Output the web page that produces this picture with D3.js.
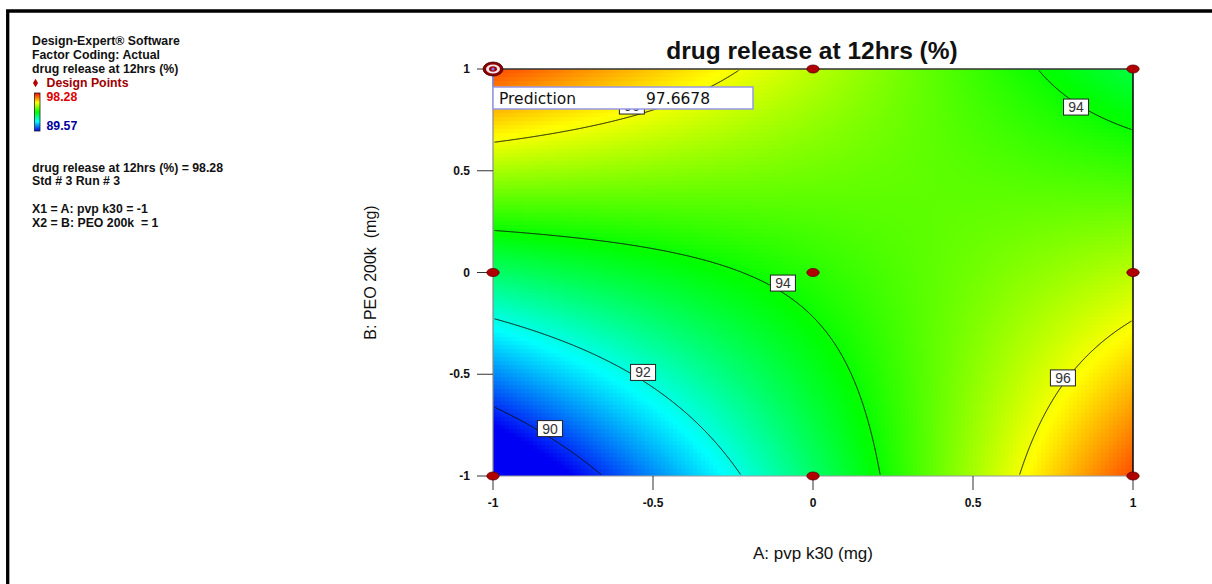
<!DOCTYPE html>
<html>
<head>
<meta charset="utf-8">
<script src="https://cdn.jsdelivr.net/npm/d3@7"></script>
<style>
  body { margin: 0; background: #fff; }
  svg { display: block; font-family: Arial, "Liberation Sans", sans-serif; }
</style>
</head>
<body>
<svg id="chart" width="1212" height="584"></svg>
<script>
// ---- data -------------------------------------------------------------
// coded factor levels and their tick labels
const tickValues = [-1, -0.5, 0, 0.5, 1];
const tickLabels = ["-1", "-0.5", "0", "0.5", "1"];

// 3x3 factorial design points (coded A: pvp k30, B: PEO 200k)
const designA = [-1, 0, 1, -1, 0, 1, -1, 0, 1];
const designB = [-1, -1, -1, 0, 0, 0, 1, 1, 1];

// fitted response model: drug release = b0 + bA*A + bB*B + bAB*A*B
const modelTerms = ["Intercept", "A", "B", "AB"];
const modelCoef = [94.271, 1.228, 1.242, -3.383];

// contour levels and label placements (coded units)
const contourLevels = [90, 92, 94, 96];
const labelLevels = [94, 94, 92, 90, 96, 96];
const labelA = [0.822, -0.094, -0.531, -0.822, 0.781, -0.566];
const labelB = [0.813, -0.052, -0.491, -0.767, -0.518, 0.818];

// colour legend range
const colorRange = [89.57, 98.28];

// selected design point
const selectedPoint = [-1, 1];
const selectedPrediction = 97.6678;
const selectedActual = 98.28;

// side panel text
const infoLines = [
  "Design-Expert\u00AE Software",
  "Factor Coding: Actual",
  "drug release at 12hrs (%)"
];
const pointLines = [
  "drug release at 12hrs (%) = 98.28",
  "Std # 3 Run # 3"
];
const factorLines = [
  "X1 = A: pvp k30 = -1",
  "X2 = B: PEO 200k  = 1"
];

// ---- setup ------------------------------------------------------------
const svg = d3.select("#chart");
const x = d3.scaleLinear().domain([-1, 1]).range([493, 1133]);
const y = d3.scaleLinear().domain([-1, 1]).range([476, 69]);

function predict(a, b) {
  const [b0, bA, bB, bAB] = modelCoef;
  return b0 + bA * a + bB * b + bAB * a * b;
}

const lo = colorRange[0], hi = colorRange[1];
const color = d3.scaleLinear()
  .domain([0, 0.25, 0.5, 0.75, 1].map(t => lo + t * (hi - lo)))
  .range(["#0000f4", "#00ffff", "#00ff00", "#ffff00", "#ff0000"])
  .clamp(true);

// outer frame
svg.append("path")
  .attr("d", "M7.7,584V11H1212")
  .attr("fill", "none").attr("stroke", "#000").attr("stroke-width", 3.3);

// ---- filled response surface (blocky raster) -----------------------------
const cell = 4;
const cells = [];
const [x0, x1] = x.range();
const [y0, y1] = [y(1), y(-1)];
for (let px = x0; px < x1; px += cell) {
  for (let py = y0; py < y1; py += cell) {
    const w = Math.min(cell, x1 - px), h = Math.min(cell, y1 - py);
    cells.push({ px, py, w, h, v: predict(x.invert(px + w / 2), y.invert(py + h / 2)) });
  }
}
svg.append("g").attr("shape-rendering", "crispEdges")
  .selectAll("rect").data(cells).join("rect")
  .attr("x", d => d.px).attr("y", d => d.py)
  .attr("width", d => d.w + 0.3).attr("height", d => d.h + 0.3)
  .attr("fill", d => color(d.v));

// ---- contour lines --------------------------------------------------------
const n = 640, m = 407;
const values = new Array(n * m);
for (let j = 0; j < m; j++) {
  for (let i = 0; i < n; i++) {
    values[j * n + i] = predict(-1 + 2 * (i + 0.5) / n, 1 - 2 * (j + 0.5) / m);
  }
}
const gx = d3.scaleLinear().domain([0, n]).range([x0, x1]);
const gy = d3.scaleLinear().domain([0, m]).range([y0, y1]);
const geo = d3.geoPath(d3.geoTransform({
  point(px, py) { this.stream.point(gx(px), gy(py)); }
}));

svg.append("clipPath").attr("id", "inner")
  .append("rect")
  .attr("x", x0 + 1.5).attr("y", y0 + 1.5)
  .attr("width", x1 - x0 - 3).attr("height", y1 - y0 - 3);

const contours = d3.contours().size([n, m]).thresholds(contourLevels)(values);
svg.append("g").attr("clip-path", "url(#inner)")
  .selectAll("path").data(contours).join("path")
  .attr("d", geo)
  .attr("fill", "none")
  .attr("stroke", "#111")
  .attr("stroke-width", 1);

// ---- plot frame -----------------------------------------------------------
svg.append("line").attr("x1", x0).attr("x2", x0).attr("y1", y0).attr("y2", y1)
  .attr("stroke", "#8a8a8a").attr("stroke-width", 1.2);
svg.append("line").attr("x1", x0).attr("x2", x1).attr("y1", y1).attr("y2", y1)
  .attr("stroke", "#9a9a9a").attr("stroke-width", 1.2);
svg.append("line").attr("x1", x0).attr("x2", x1).attr("y1", y0).attr("y2", y0)
  .attr("stroke", "#333").attr("stroke-width", 1.4);
svg.append("line").attr("x1", x1).attr("x2", x1).attr("y1", y0).attr("y2", y1)
  .attr("stroke", "#000").attr("stroke-width", 1.5);

// ---- axes -----------------------------------------------------------------
const xAxis = svg.append("g");
tickValues.forEach((t, i) => {
  xAxis.append("line").attr("x1", x(t)).attr("x2", x(t))
    .attr("y1", y1).attr("y2", y1 + 14).attr("stroke", "#333").attr("stroke-width", 1);
  xAxis.append("text").attr("x", x(t)).attr("y", y1 + 31)
    .attr("text-anchor", "middle").attr("font-size", 12).attr("font-weight", "bold")
    .attr("fill", "#111").text(tickLabels[i]);
});
const yAxis = svg.append("g");
tickValues.forEach((t, i) => {
  yAxis.append("line").attr("x1", x0 - 16).attr("x2", x0)
    .attr("y1", y(t)).attr("y2", y(t)).attr("stroke", "#333").attr("stroke-width", 1);
  yAxis.append("text").attr("x", x0 - 23).attr("y", y(t) + 4)
    .attr("text-anchor", "end").attr("font-size", 12).attr("font-weight", "bold")
    .attr("fill", "#111").text(tickLabels[i]);
});

svg.append("text").attr("x", (x0 + x1) / 2).attr("y", 559)
  .attr("text-anchor", "middle").attr("font-size", 17).attr("fill", "#111")
  .text("A: pvp k30 (mg)");
svg.append("text")
  .attr("transform", `translate(376,${(y0 + y1) / 2}) rotate(-90)`)
  .attr("text-anchor", "middle").attr("font-size", 16).attr("fill", "#111")
  .attr("xml:space", "preserve")
  .text("B: PEO 200k  (mg)");

svg.append("text").attr("x", (x0 + x1) / 2 - 1).attr("y", 59)
  .attr("text-anchor", "middle").attr("font-size", 24.5).attr("font-weight", "bold")
  .attr("fill", "#111").text("drug release at 12hrs (%)");

// ---- contour labels -------------------------------------------------------
const labels = svg.append("g").selectAll("g")
  .data(labelLevels.map((lv, i) => ({ lv, a: labelA[i], b: labelB[i] })))
  .join("g")
  .attr("transform", d => `translate(${x(d.a)},${y(d.b)})`);
labels.append("rect").attr("x", -12.5).attr("y", -8).attr("width", 25).attr("height", 16)
  .attr("fill", "#fff").attr("stroke", "#222").attr("stroke-width", 1);
labels.append("text").attr("y", 5).attr("text-anchor", "middle")
  .attr("font-size", 14).attr("fill", "#333").text(d => d.lv);

// ---- design points --------------------------------------------------------
svg.append("g").selectAll("ellipse")
  .data(designA.map((a, i) => [a, designB[i]]))
  .join("ellipse")
  .attr("cx", d => x(d[0])).attr("cy", d => y(d[1]))
  .attr("rx", 6.2).attr("ry", 4)
  .attr("fill", "#b00000").attr("stroke", "#5a0000").attr("stroke-width", 0.8);

// selected point marker + prediction flag
const sx = x(selectedPoint[0]), sy = y(selectedPoint[1]);
svg.append("line").attr("x1", sx).attr("x2", sx).attr("y1", sy).attr("y2", sy + 18)
  .attr("stroke", "#8080e0").attr("stroke-width", 1.5);
svg.append("ellipse").attr("cx", sx).attr("cy", sy).attr("rx", 10).attr("ry", 7)
  .attr("fill", "#8c0000").attr("stroke", "#3a0000").attr("stroke-width", 0.8);
svg.append("ellipse").attr("cx", sx).attr("cy", sy).attr("rx", 7).attr("ry", 4.6)
  .attr("fill", "#f2e6ea");
svg.append("ellipse").attr("cx", sx).attr("cy", sy).attr("rx", 4).attr("ry", 2.7)
  .attr("fill", "#a00000");
svg.append("circle").attr("cx", sx).attr("cy", sy).attr("r", 1.6).attr("fill", "#7a7aff");

const flag = svg.append("g").attr("transform", `translate(${sx},${sy + 18})`);
flag.append("rect").attr("x", 0).attr("y", 0).attr("width", 260).attr("height", 22)
  .attr("fill", "#fff").attr("stroke", "#9696e6").attr("stroke-width", 1.5);
flag.append("text").attr("x", 6).attr("y", 16.5)
  .attr("font-family", "'DejaVu Sans', sans-serif").attr("font-size", 15.5)
  .attr("fill", "#111").text("Prediction");
flag.append("text").attr("x", 153).attr("y", 16.5)
  .attr("font-family", "'DejaVu Sans', sans-serif").attr("font-size", 15.5)
  .attr("fill", "#111").text(selectedPrediction.toFixed(4));

// ---- side panel -----------------------------------------------------------
const panel = svg.append("g").attr("font-size", 12.3).attr("font-weight", "bold").attr("fill", "#111");
infoLines.forEach((t, i) => {
  panel.append("text").attr("x", 32).attr("y", 45 + i * 13.8).attr("xml:space", "preserve").text(t);
});
panel.append("path").attr("d", d3.symbol(d3.symbolDiamond, 22)())
  .attr("transform", "translate(35.5,83)").attr("fill", "#b00000");
panel.append("text").attr("x", 46.5).attr("y", 87).attr("fill", "#a00000").text("Design Points");

const grad = svg.append("defs").append("linearGradient").attr("id", "legendGrad")
  .attr("x1", 0).attr("y1", 1).attr("x2", 0).attr("y2", 0);
[0, 0.25, 0.5, 0.75, 1].forEach(t => {
  grad.append("stop").attr("offset", t).attr("stop-color", color(lo + t * (hi - lo)));
});
panel.append("rect").attr("x", 34.5).attr("y", 93).attr("width", 5.5).attr("height", 38)
  .attr("fill", "url(#legendGrad)").attr("stroke", "#222").attr("stroke-width", 0.8);
panel.append("text").attr("x", 46.5).attr("y", 101).attr("fill", "#e00000").text(hi.toFixed(2));
panel.append("text").attr("x", 46.5).attr("y", 129.5).attr("fill", "#0000a0").text(lo.toFixed(2));

pointLines.forEach((t, i) => {
  panel.append("text").attr("x", 32).attr("y", 171.5 + i * 13.5).text(t);
});
factorLines.forEach((t, i) => {
  panel.append("text").attr("x", 32).attr("y", 213.3 + i * 14).attr("xml:space", "preserve").text(t);
});
</script>
</body>
</html>
